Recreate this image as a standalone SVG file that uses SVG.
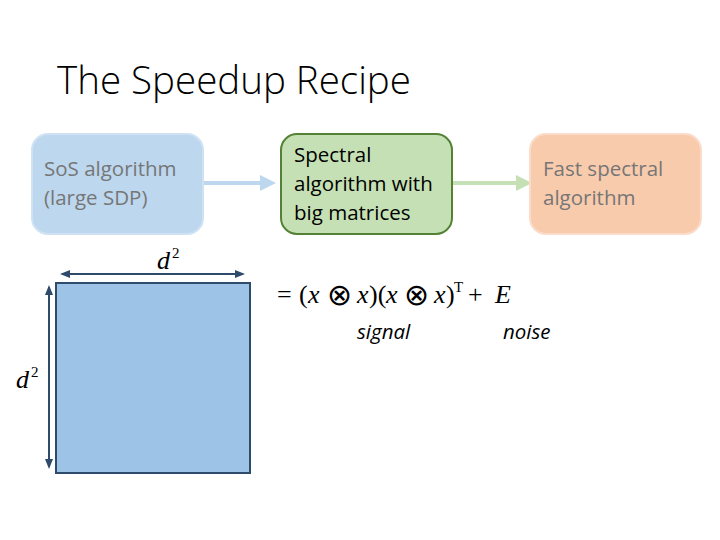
<svg xmlns="http://www.w3.org/2000/svg" width="720" height="540" viewBox="0 0 720 540">
<style>
.t{font-family:"Open Sans","Liberation Sans",sans-serif;font-size:20.5px}
.g{fill:#767676}
.k{fill:#000}
.m{font-family:"Liberation Serif","DejaVu Serif",serif;font-size:26px;fill:#000}
.i{font-style:italic}
.o{font-family:"DejaVu Sans","Noto Sans",sans-serif;font-size:30px;font-weight:200}
.s{font-family:"Open Sans","Liberation Sans",sans-serif;font-style:italic;font-size:20.5px;fill:#000}
</style>
<defs>
<marker id="ab" markerWidth="4" markerHeight="4" refX="3" refY="2" orient="auto" markerUnits="strokeWidth"><path d="M0,0 L4,2 L0,4 z" fill="#bdd7ee"/></marker>
<marker id="ag" markerWidth="4" markerHeight="4" refX="3" refY="2" orient="auto" markerUnits="strokeWidth"><path d="M0,0 L4,2 L0,4 z" fill="#c5e0b4"/></marker>
<marker id="ad" markerWidth="5" markerHeight="5" refX="4" refY="2.5" orient="auto-start-reverse" markerUnits="strokeWidth"><path d="M0,0.5 L5,2.5 L0,4.5 z" fill="#2e4b6b"/></marker>
</defs>
<rect width="720" height="540" fill="#fff"/>
<text x="57" y="94" font-family="'Open Sans','Liberation Sans',sans-serif" font-weight="300" font-size="38.5" fill="#000">The Speedup Recipe</text>
<g id="connectors">
<line x1="203" y1="183" x2="272" y2="183" stroke="#bdd7ee" stroke-width="4" marker-end="url(#ab)"/>
<line x1="452" y1="183" x2="528" y2="183" stroke="#c5e0b4" stroke-width="4" marker-end="url(#ag)"/>
</g>
<g id="sos">
<rect x="32" y="134" width="171" height="100" rx="16" fill="#bdd7ee" stroke="#cfe2f3" stroke-width="2"/>
<text class="t g" x="44" y="176">SoS algorithm</text>
<text class="t g" x="44" y="205">(large SDP)</text>
</g>
<g id="spectral">
<rect x="281" y="134" width="171" height="100" rx="16" fill="#c5e0b4" stroke="#548235" stroke-width="2"/>
<text class="t k" x="294" y="162">Spectral</text>
<text class="t k" x="294" y="191">algorithm with</text>
<text class="t k" x="294" y="220">big matrices</text>
</g>
<g id="fast">
<rect x="530" y="134" width="171" height="100" rx="16" fill="#f8cbad" stroke="#fbdccb" stroke-width="2"/>
<text class="t g" x="543" y="176">Fast spectral</text>
<text class="t g" x="543" y="205">algorithm</text>
</g>
<g id="matrix">
<rect x="56" y="283" width="194" height="190" fill="#9dc3e6" stroke="#2e4b6b" stroke-width="2"/>
<line x1="62" y1="274" x2="243" y2="274" stroke="#2e4b6b" stroke-width="2" marker-start="url(#ad)" marker-end="url(#ad)"/>
<line x1="49" y1="287" x2="49" y2="467" stroke="#2e4b6b" stroke-width="2" marker-start="url(#ad)" marker-end="url(#ad)"/>
<text class="m" x="157" y="269"><tspan class="i">d</tspan><tspan font-size="15" dx="2" dy="-11">2</tspan></text>
<text class="m" x="16" y="388"><tspan class="i">d</tspan><tspan font-size="15" dx="2" dy="-11">2</tspan></text>
</g>
<g id="equation">
<text class="m" y="303"><tspan x="277">=</tspan><tspan x="299">(</tspan><tspan class="i" x="308">x</tspan><tspan class="o" x="327" y="305">⊗</tspan><tspan class="i" x="357" y="303">x</tspan><tspan x="369">)(</tspan><tspan class="i" x="386">x</tspan><tspan class="o" x="404" y="305">⊗</tspan><tspan class="i" x="434" y="303">x</tspan><tspan x="446">)</tspan><tspan x="454" y="292" font-size="15">T</tspan><tspan x="468" y="303">+</tspan><tspan class="i" x="495">E</tspan></text>
<text class="s" x="357" y="339">signal</text>
<text class="s" x="503" y="339">noise</text>
</g>
</svg>
